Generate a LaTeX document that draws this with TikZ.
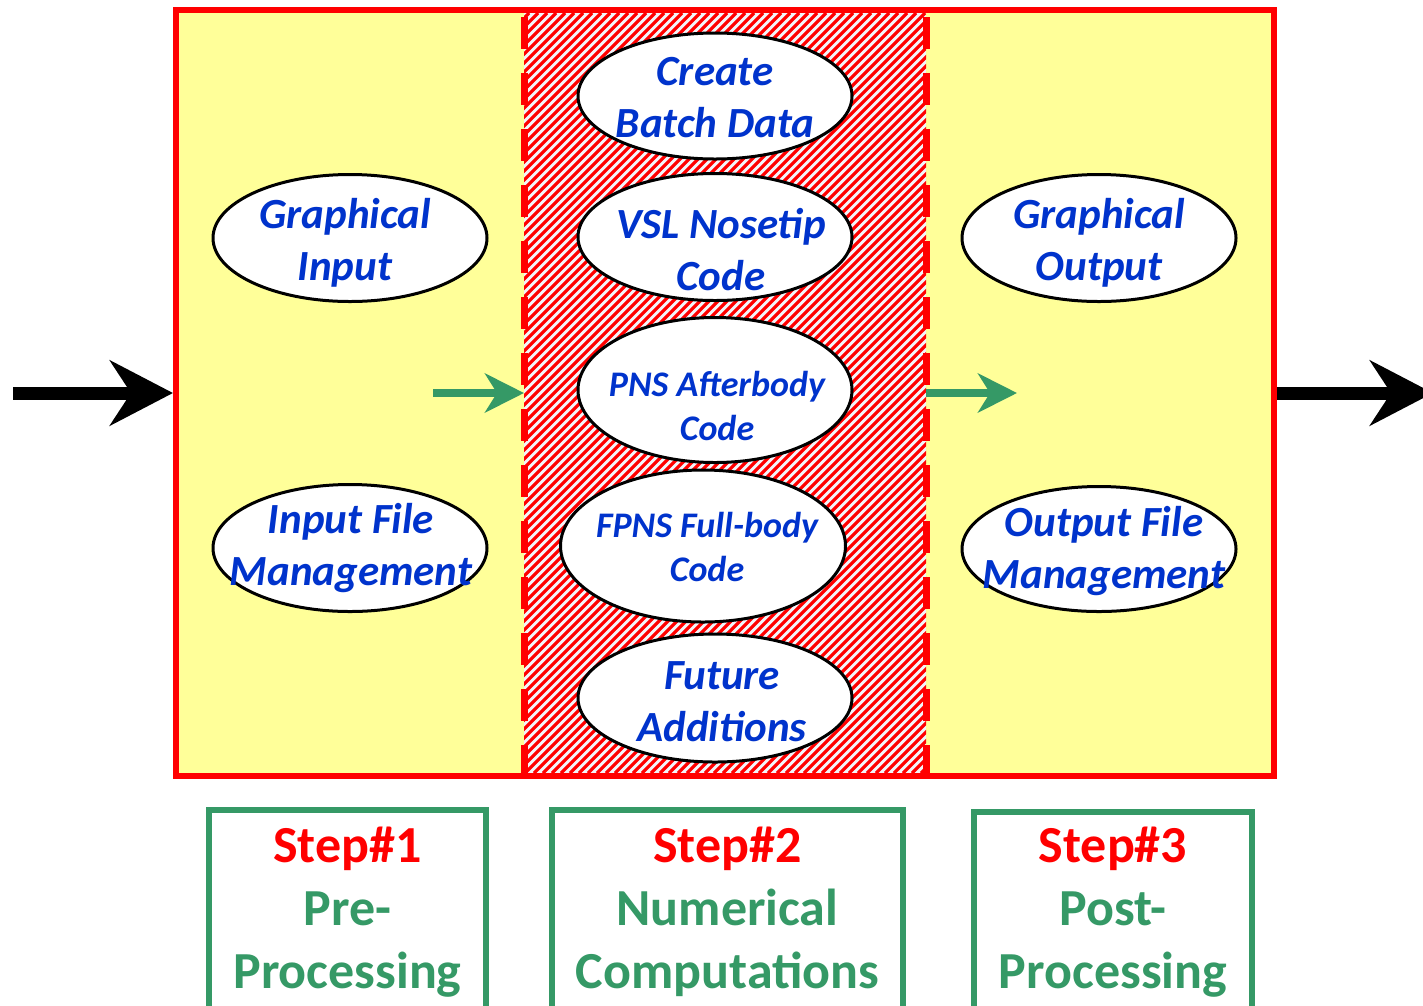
\documentclass[tikz,border=0pt]{standalone}
\usepackage{fontspec}
\setmainfont{Carlito}
\usetikzlibrary{shapes.geometric,arrows.meta}
\definecolor{myyellow}{RGB}{255,255,153}
\definecolor{myred}{RGB}{255,0,0}
\definecolor{mygreen}{RGB}{53,153,102}
\definecolor{myblue}{RGB}{0,51,204}
\definecolor{hatchbg}{RGB}{242,245,250}
\begin{document}
\begin{tikzpicture}[x=1pt,y=-1pt,
  oval/.style={ellipse, draw=black, line width=3pt, fill=white, inner sep=0pt},
  ovaltext/.style={align=center, text=myblue, inner sep=0pt, font=\fontsize{43}{52}\selectfont\bfseries\itshape},
  ovalsmall/.style={align=center, text=myblue, inner sep=0pt, font=\fontsize{36}{44}\selectfont\bfseries\itshape},
  stepbox/.style={draw=mygreen, line width=6pt, align=center, inner sep=0pt, font=\fontsize{52}{63}\selectfont\bfseries, text=mygreen},
  bigarrow/.style={line width=13pt, black, -{Stealth[length=63pt, width=65pt, inset=21pt]}},
  greenarrow/.style={line width=8pt, mygreen, -{Stealth[length=39pt, width=39pt, inset=12pt]}}
]
\useasboundingbox (0,0) rectangle (1423,1005);

% main panel
\fill[myyellow] (176,10) rectangle (1274,776);
\begin{scope}
  \clip (524,13) rectangle (926,773);
  \fill[hatchbg] (524,13) rectangle (926,773);
  \foreach \k in {-240,-231,...,935}
    \draw[myred, line width=3.2pt] (\k,773) -- ++(760,-760);
\end{scope}
\draw[myred, line width=7pt, dash pattern=on 32pt off 24pt] (524,17) -- (524,776);
\draw[myred, line width=7pt, dash pattern=on 32pt off 24pt] (926,17) -- (926,776);
\node[draw=myred, line width=6pt, minimum width=1098pt, minimum height=766pt, inner sep=0pt] (panel) at (725,393) {};

% ellipses
\node[oval, minimum width=274pt, minimum height=126pt] (cbd) at (715,96) {};
\node[ovaltext] at (715,98) {Create\\Batch Data};
\node[oval, minimum width=274pt, minimum height=127pt] (vsl) at (715,237) {};
\node[ovaltext] at (721,250) {VSL Nosetip\\Code};
\node[oval, minimum width=274pt, minimum height=145pt] (pns) at (715,390) {};
\node[ovalsmall] at (717,406) {PNS Afterbody\\Code};
\node[oval, minimum width=285pt, minimum height=152pt] (fpns) at (703,546) {};
\node[ovalsmall] at (707,547) {FPNS Full-body\\Code};
\node[oval, minimum width=274pt, minimum height=128pt] (fut) at (715,698) {};
\node[ovaltext] at (722,702) {Future\\Additions};

\node[oval, minimum width=274pt, minimum height=127pt] (gin) at (350,238) {};
\node[ovaltext] at (345,243) {Graphical\\Input};
\node[oval, minimum width=274pt, minimum height=127pt] (ifm) at (350,548) {};
\node[ovaltext] at (351,548) {Input File\\Management};
\node[oval, minimum width=274pt, minimum height=127pt] (gout) at (1099,238) {};
\node[ovaltext] at (1099,243) {Graphical\\Output};
\node[oval, minimum width=274pt, minimum height=125pt] (ofm) at (1099,549) {};
\node[ovaltext] at (1104,551) {Output File\\Management};

% arrows
\coordinate (inStart) at (13,393);
\coordinate (outEnd) at (1433,393);
\coordinate (g1Start) at (433,393);
\coordinate (g2End) at (1017,393);
\draw[bigarrow] (inStart) -- (panel.west);
\draw[bigarrow] (panel.east) -- (outEnd);
\draw[greenarrow] (g1Start) -- (524,393);
\draw[greenarrow] (926,393) -- (g2End);

% step boxes
\node[stepbox, minimum width=277pt, minimum height=204pt] (s1) at (347.5,912)
  {\textcolor{myred}{Step\#1}\\Pre-\\Processing};
\node[stepbox, minimum width=351pt, minimum height=204pt] (s2) at (727.5,912)
  {\textcolor{myred}{Step\#2}\\Numerical\\Computations};
\node[stepbox, minimum width=278pt, minimum height=200pt] (s3) at (1113,912)
  {\textcolor{myred}{Step\#3}\\Post-\\Processing};
\end{tikzpicture}
\end{document}
